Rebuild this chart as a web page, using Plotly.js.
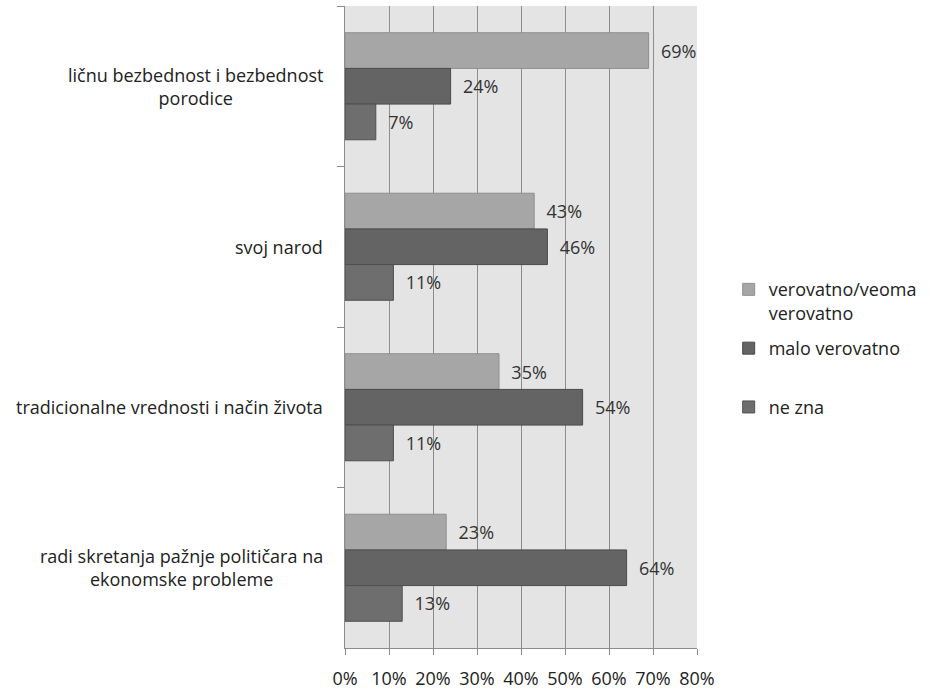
<!DOCTYPE html>
<html>
<head>
<meta charset="utf-8">
<script src="https://cdn.plot.ly/plotly-3.0.1.min.js"></script>
<style>html,body{margin:0;padding:0;background:#fff;}#chart{width:930px;height:689px;}</style>
</head>
<body>
<div id="chart"></div>
<script>
const categories = [
  "ličnu bezbednost i bezbednost<br>porodice",
  "svoj narod",
  "tradicionalne vrednosti i način života",
  "radi skretanja pažnje političara na<br>ekonomske probleme"
];
const seriesNames = ["verovatno/veoma<br>verovatno", "malo verovatno<br>\u00a0", "ne zna"];
const verovatno = [69, 43, 35, 23];
const maloVerovatno = [24, 46, 54, 64];
const neZna = [7, 11, 11, 13];
const xTickVals = [0, 10, 20, 30, 40, 50, 60, 70, 80];

const FONT = "'Open Sans', sans-serif";
const FS = 18;
const fills = ["#a6a6a6", "#646464", "#6e6e6e"];
const lines = ["#8f8f8f", "#4a4a4a", "#505050"];
const allSeries = [verovatno, maloVerovatno, neZna];

const traces = allSeries.map((vals, i) => ({
  type: "bar",
  orientation: "h",
  name: seriesNames[i],
  legendgroup: "g" + i,
  y: categories,
  x: vals,
  marker: {color: fills[i], line: {color: lines[i], width: 1}},
  text: vals.map(v => "\u00a0\u00a0" + v + "%"),
  textposition: "outside",
  textfont: {family: FONT, size: FS, color: "#333333"},
  constraintext: "none",
  cliponaxis: false,
  hoverinfo: "skip"
}));

const annotations = categories.map(c => ({
  xref: "paper", yref: "y",
  x: 0, y: c,
  xanchor: "right", yanchor: "middle",
  xshift: -20,
  align: "center",
  text: c,
  showarrow: false,
  font: {family: FONT, size: FS, color: "#222222"}
}));

const layout = {
  width: 930, height: 689,
  margin: {l: 345, r: 233, t: 6, b: 41, autoexpand: false},
  paper_bgcolor: "#ffffff",
  plot_bgcolor: "#e4e4e4",
  barmode: "group",
  bargap: 0.333,
  bargroupgap: 0,
  font: {family: FONT, size: FS, color: "#222222"},
  xaxis: {
    range: [0, 80],
    tickvals: xTickVals,
    ticktext: xTickVals.map(v => v + "%"),
    showgrid: true,
    gridcolor: "#8c8c8c",
    gridwidth: 1,
    zeroline: false,
    showline: true,
    linecolor: "#8c8c8c",
    ticks: "outside",
    ticklen: 6,
    tickcolor: "#8c8c8c",
    tickfont: {family: FONT, size: FS, color: "#222222"},
    ticklabelstandoff: 8,
    automargin: false,
    fixedrange: true
  },
  yaxis: {
    type: "category",
    autorange: "reversed",
    showticklabels: false,
    ticks: "outside",
    tickson: "boundaries",
    ticklen: 7,
    tickcolor: "#8c8c8c",
    showline: true,
    linecolor: "#8c8c8c",
    showgrid: false,
    zeroline: false,
    automargin: false,
    fixedrange: true
  },
  legend: {
    xref: "paper", yref: "paper",
    x: 1.09, xanchor: "left",
    y: 0.587, yanchor: "top",
    traceorder: "grouped",
    tracegroupgap: 9,
    valign: "top",
    itemwidth: 30,
    font: {family: FONT, size: FS, color: "#222222"},
    bgcolor: "rgba(0,0,0,0)"
  },
  annotations: annotations,
  showlegend: true
};

Plotly.newPlot("chart", traces, layout, {displayModeBar: false, staticPlot: true});
</script>
</body>
</html>
